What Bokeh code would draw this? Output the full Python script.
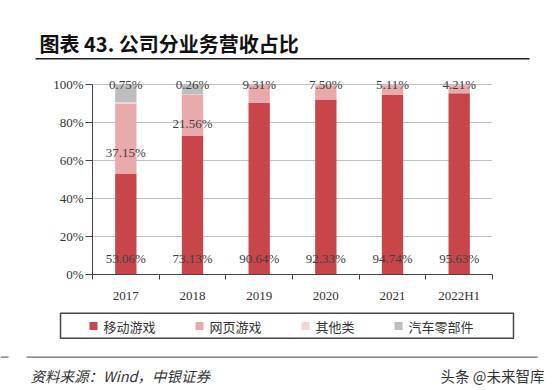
from bokeh.plotting import figure
from bokeh.models import ColumnDataSource, FixedTicker, PrintfTickFormatter, Range1d
from bokeh.layouts import column
from bokeh.core.properties import value
from bokeh.embed import file_html
from bokeh.resources import INLINE

# ---- data ----
years = ["2017", "2018", "2019", "2020", "2021", "2022H1"]
mobile_game = [53.06, 73.13, 90.64, 92.33, 94.74, 95.63]   # 移动游戏
web_game = [37.15, 21.56, 9.31, 7.50, 5.11, 4.21]          # 网页游戏
other = [0.75, 0.26, 0.0, 0.0, 0.0, 0.0]                   # 其他类
auto_parts = [9.04, 5.05, 0.0, 0.0, 0.0, 0.0]              # 汽车零部件
series_names = ["移动游戏", "网页游戏", "其他类", "汽车零部件"]
y_ticks = [0, 20, 40, 60, 80, 100]
title_text = "图表 43. 公司分业务营收占比"
source_text = "资料来源：Wind，中银证券"
watermark_text = "头条 @未来智库"

colors = ["#C8464A", "#E9AAAB", "#F5D4D4", "#BEBEBE"]
W = 552


def blank(height, y_top):
    f = figure(width=W, height=height, output_backend="svg", toolbar_location=None,
               x_range=Range1d(0, W), y_range=Range1d(y_top + height, y_top),
               x_axis_type=None, y_axis_type=None, min_border=0, frame_align=False)
    f.outline_line_color = None
    f.grid.visible = False
    return f


# ---- title panel (page y 0..62) ----
top = blank(62, 0)
top.text(x=[39], y=[42.7], text=[title_text], text_baseline="middle",
         text_font=value("Noto Sans CJK SC"), text_font_style="bold",
         text_font_size="20px", text_color="#111111")
top.segment(x0=[35], y0=[58.3], x1=[529], y1=[58.3], line_width=1.5, line_color="#222222")

# ---- chart (page y 62..305) ----
x = [i + 0.5 for i in range(len(years))]
src = ColumnDataSource(dict(x=x, mobile=mobile_game, web=web_game, other=other, auto=auto_parts))

lx, ly, lt = [], [], []
for i in range(len(years)):
    lx.append(x[i]); ly.append(8.3); lt.append(f"{mobile_game[i]:.2f}%")
    if web_game[i] > 15:
        lx.append(x[i]); ly.append(mobile_game[i] + 0.3 * web_game[i]); lt.append(f"{web_game[i]:.2f}%")
    else:
        lx.append(x[i]); ly.append(100); lt.append(f"{web_game[i]:.2f}%")
    if other[i] > 0:
        lx.append(x[i]); ly.append(100); lt.append(f"{other[i]:.2f}%")
lsrc = ColumnDataSource(dict(x=lx, y=ly, t=lt))

p = figure(width=W, height=243, output_backend="svg", toolbar_location=None,
           x_range=Range1d(0, len(years)), y_range=Range1d(0, 105), frame_align=False,
           min_border_left=92, min_border_right=60, min_border_top=13, min_border_bottom=27)
p.outline_line_color = None

rs = p.vbar_stack(["mobile", "web", "other", "auto"], x="x", width=0.32, color=colors,
                  line_width=0, source=src)

p.text(x="x", y="y", text="t", source=lsrc, text_align="center", text_baseline="middle",
       text_font=value("Liberation Serif"), text_font_size="13px", text_color="#404040")

p.xgrid.visible = False
p.ygrid.ticker = FixedTicker(ticks=y_ticks)
p.ygrid.grid_line_color = "#808080"
p.ygrid.grid_line_dash = "1 1"
p.ygrid.grid_line_width = 1

ya = p.yaxis[0]
ya.ticker = FixedTicker(ticks=y_ticks)
ya.formatter = PrintfTickFormatter(format="%d%%")
ya.bounds = (0, 100)
ya.axis_line_color = "#444444"
ya.major_tick_line_color = "#444444"
ya.major_tick_out = 7
ya.major_tick_in = 0
ya.minor_tick_out = 0
ya.minor_tick_in = 0
ya.major_label_standoff = 2
ya.major_label_text_font = "Liberation Serif"
ya.major_label_text_font_size = "13px"
ya.major_label_text_color = "#333333"

xa = p.xaxis[0]
xa.ticker = FixedTicker(ticks=x, minor_ticks=list(range(len(years) + 1)))
xa.major_label_overrides = {xi: y for xi, y in zip(x, years)}
xa.axis_line_color = "#444444"
xa.major_tick_out = 0
xa.major_tick_in = 0
xa.minor_tick_out = 5
xa.minor_tick_in = 0
xa.minor_tick_line_color = "#444444"
xa.major_label_standoff = 8
xa.major_label_text_font = "Liberation Serif"
xa.major_label_text_font_size = "13px"
xa.major_label_text_color = "#333333"

# ---- bottom panel: legend and source (page y 305..390) ----
bot = blank(85, 305)
bot.quad(left=[60], right=[513], top=[312.7], bottom=[337.7], fill_alpha=0,
         line_color="#444444", line_width=1.5)
sq_x, tx = [], []
cur = 89
for n in series_names:
    sq_x.append(cur + 4)
    tx.append(cur + 8 + 6)
    cur += 8 + 6 + 13 * len(n) + 40
bot.rect(x=sq_x, y=[325.5] * 4, width=8, height=8, fill_color=colors, line_color=None)
bot.text(x=tx, y=[325.5] * 4, text=series_names, text_baseline="middle",
         text_font=value("Noto Sans CJK SC"), text_font_size="13px", text_color="#333333")
bot.segment(x0=[26, 0], y0=[356.6, 356.6], x1=[537, 8], y1=[356.6, 356.6],
            line_width=1, line_color="#444444")
bot.text(x=[30], y=[375], text=[source_text], text_baseline="middle",
         text_font=value("Noto Sans CJK SC"), text_font_style="italic",
         text_font_size="14.5px", text_color="#333333")
bot.text(x=[544], y=[375], text=[watermark_text], text_baseline="middle", text_align="right",
         text_font=value("Noto Sans CJK SC"), text_font_size="14.5px", text_color="#333333")

layout = column(top, p, bot, spacing=0)
open("out.html", "w").write(file_html(layout, INLINE))
